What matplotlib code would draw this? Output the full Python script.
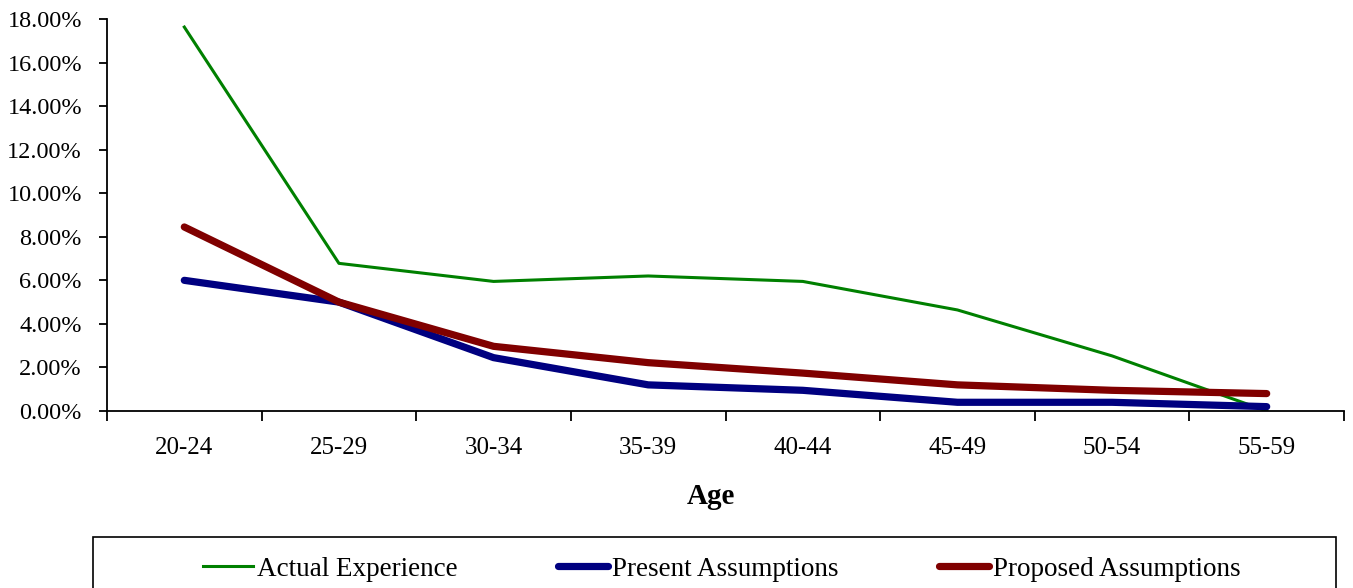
import matplotlib
matplotlib.use("Agg")
import matplotlib.pyplot as plt
from matplotlib.ticker import PercentFormatter, FixedLocator, NullFormatter
from matplotlib.patches import Rectangle

# === Data (percent) ===
age_groups = ['20-24', '25-29', '30-34', '35-39', '40-44', '45-49', '50-54', '55-59']
actual_experience = [17.63, 6.78, 5.95, 6.20, 5.95, 4.64, 2.53, 0.0]
present_assumptions = [6.0, 5.0, 2.45, 1.2, 0.95, 0.4, 0.4, 0.2]
proposed_assumptions = [8.45, 5.0, 2.97, 2.22, 1.74, 1.2, 0.95, 0.8]

plt.rcParams.update({
    "font.family": ["Liberation Serif", "DejaVu Serif"],
})

W, H = 1353, 588
fig = plt.figure(figsize=(W / 100, H / 100), dpi=100)
ax = fig.add_axes([107 / W, 1 - 411 / H, (1344 - 107) / W, (411 - 19) / H])

x = list(range(len(age_groups)))
ax.plot(x, actual_experience, color='#008000', lw=2.2, label='Actual Experience')
ax.plot(x, present_assumptions, color='#000080', lw=5.2, solid_capstyle='round',
        label='Present Assumptions')
ax.plot(x, proposed_assumptions, color='#800000', lw=5.2, solid_capstyle='round',
        label='Proposed Assumptions')

ax.set_xlim(-0.5, len(age_groups) - 0.5)
ax.set_ylim(0, 18)
ax.set_yticks([0, 2, 4, 6, 8, 10, 12, 14, 16, 18])
ax.yaxis.set_major_formatter(PercentFormatter(xmax=100, decimals=2))

# category boundaries get the tick marks, labels sit at the centres
ax.xaxis.set_major_locator(FixedLocator([i - 0.5 for i in range(len(age_groups) + 1)]))
ax.xaxis.set_major_formatter(NullFormatter())
ax.xaxis.set_minor_locator(FixedLocator(x))
ax.set_xticklabels(age_groups, minor=True)
ax.tick_params(axis='x', which='major', direction='out', length=7, width=1.3)
ax.tick_params(axis='x', which='minor', length=0, pad=19, labelsize=18)
ax.tick_params(axis='y', direction='out', length=6, width=1.3, pad=12, labelsize=17.5)

for side in ['top', 'right']:
    ax.spines[side].set_visible(False)
for side in ['left', 'bottom']:
    ax.spines[side].set_linewidth(1.3)

ax.set_xlabel('Age', fontsize=21, fontweight='bold')
ax.xaxis.set_label_coords(0.488, -0.183)

# legend frame (cut off by the figure edge, as in the source)
fig.patches.append(Rectangle((93 / W, -0.05), (1336 - 93) / W, 0.05 + 51 / H,
                             transform=fig.transFigure, fill=False,
                             edgecolor='black', linewidth=1.2))
fig.legend(loc='center', bbox_to_anchor=((200 + 1243) / 2 / W, 1 - 569 / H),
           ncol=3, frameon=False, fontsize=19.5, handlelength=1.85,
           handletextpad=0.15, columnspacing=3.7)

fig.savefig('out.png', dpi=100)
